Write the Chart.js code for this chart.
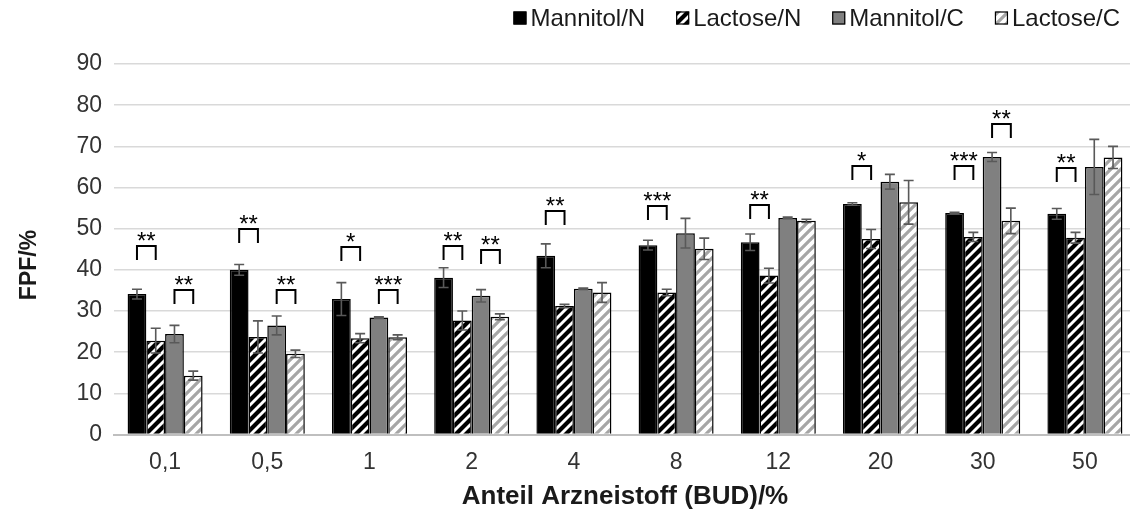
<!DOCTYPE html>
<html><head><meta charset="utf-8">
<script src="https://cdn.jsdelivr.net/npm/chart.js@4.4.1/dist/chart.umd.min.js"></script>
<style>
html,body{margin:0;padding:0;background:#fff;overflow:hidden;width:1130px;height:512px}
#wrap{position:absolute;left:0;top:0;width:1137px;height:512px}
</style>
</head><body><div id="wrap"><canvas id="c" width="1137" height="512"></canvas></div>
<script>
const categories = ['0,1','0,5','1','2','4','8','12','20','30','50'];
const seriesNames = ['Mannitol/N','Lactose/N','Mannitol/C','Lactose/C'];
const mannitolN = [34.1, 40.0, 32.9, 38.1, 43.4, 46.0, 46.7, 56.0, 53.8, 53.6];
const lactoseN  = [22.8, 23.7, 23.4, 27.7, 31.2, 34.5, 38.6, 47.5, 48.0, 47.8];
const mannitolC = [24.4, 26.5, 28.4, 33.7, 35.4, 48.9, 52.6, 61.4, 67.4, 65.0];
const lactoseC  = [14.3, 19.6, 23.6, 28.6, 34.5, 45.1, 51.9, 56.4, 51.9, 67.3];
const errMannitolN = [1.2, 1.3, 4.0, 2.4, 2.9, 1.2, 2.0, 0.3, 0.2, 1.3];
const errLactoseN  = [3.0, 3.9, 1.1, 2.3, 0.4, 0.8, 1.8, 2.3, 1.1, 1.3];
const errMannitolC = [2.1, 2.3, 0.2, 1.5, 0.2, 3.6, 0.2, 1.8, 1.1, 6.7];
const errLactoseC  = [1.1, 0.9, 0.6, 0.7, 2.4, 2.6, 0.4, 5.3, 3.1, 2.7];
const yTicks = [0,10,20,30,40,50,60,70,80,90];
const xTitle = 'Anteil Arzneistoff (BUD)/%';
const yTitle = 'FPF/%';
// significance brackets: category index, first series, second series, level (FPF %), label
const bracketCat   = [0, 0, 1, 1, 2, 2, 3, 3, 4, 5, 6, 7, 8, 8, 9];
const bracketFrom  = [0, 2, 0, 2, 0, 2, 0, 2, 0, 0, 0, 0, 0, 2, 0];
const bracketTo    = [1, 3, 1, 3, 1, 3, 1, 3, 1, 1, 1, 1, 1, 3, 1];
const bracketLevel = [45.9, 35.0, 49.9, 35.0, 45.5, 35.0, 45.7, 44.9, 54.2, 55.6, 55.7, 65.3, 65.3, 75.5, 64.7];
const bracketLabel = ['**','**','**','**','*','***','**','**','**','***','**','*','***','**','**'];

const FONT = '"Liberation Sans", Arial, sans-serif';
const canvas = document.getElementById('c');
const ctx0 = canvas.getContext('2d');
function stripes(fg, bg, size, lw) {
  const c = document.createElement('canvas');
  c.width = size; c.height = size;
  const g = c.getContext('2d');
  g.fillStyle = bg; g.fillRect(0, 0, size, size);
  g.strokeStyle = fg; g.lineWidth = lw;
  g.beginPath();
  g.moveTo(-size, size * 2); g.lineTo(size * 2, -size);
  g.moveTo(-size, size); g.lineTo(size, -size);
  g.moveTo(0, size * 2); g.lineTo(size * 2, 0);
  g.stroke();
  return ctx0.createPattern(c, 'repeat');
}
const patLN = stripes('#000000', '#ffffff', 10, 4.2);
const patLC = stripes('#a6a6a6', '#ffffff', 10, 3.2);

const fills = ['#000000', patLN, '#808080', patLC];
const values = [mannitolN, lactoseN, mannitolC, lactoseC];
const errors = [errMannitolN, errLactoseN, errMannitolC, errLactoseC];

const errorBars = {
  id: 'errorBars',
  afterDatasetsDraw(chart) {
    const ctx = chart.ctx, y = chart.scales.y;
    ctx.save();
    ctx.strokeStyle = '#595959'; ctx.lineWidth = 1.6;
    values.forEach((vals, di) => {
      const meta = chart.getDatasetMeta(di);
      meta.data.forEach((el, j) => {
        const v = vals[j], e = errors[di][j];
        const yt = y.getPixelForValue(v + e), yb = y.getPixelForValue(v - e);
        ctx.beginPath();
        ctx.moveTo(el.x, yt); ctx.lineTo(el.x, yb);
        ctx.moveTo(el.x - 5, yt); ctx.lineTo(el.x + 5, yt);
        ctx.moveTo(el.x - 5, yb); ctx.lineTo(el.x + 5, yb);
        ctx.stroke();
      });
    });
    ctx.restore();
  }
};

const brackets = {
  id: 'brackets',
  afterDatasetsDraw(chart) {
    const ctx = chart.ctx, y = chart.scales.y;
    ctx.save();
    ctx.strokeStyle = '#000'; ctx.lineWidth = 2;
    ctx.fillStyle = '#000';
    ctx.font = '24px ' + FONT;
    ctx.textAlign = 'center'; ctx.textBaseline = 'alphabetic';
    bracketCat.forEach((c, k) => {
      const xa = chart.getDatasetMeta(bracketFrom[k]).data[c].x;
      const xb = chart.getDatasetMeta(bracketTo[k]).data[c].x;
      const yt = Math.round(y.getPixelForValue(bracketLevel[k]));
      ctx.beginPath();
      ctx.moveTo(xa, yt + 14); ctx.lineTo(xa, yt); ctx.lineTo(xb, yt); ctx.lineTo(xb, yt + 14);
      ctx.stroke();
      ctx.fillText(bracketLabel[k], (xa + xb) / 2, yt + 3);
    });
    ctx.restore();
  }
};

const titlesAndLegend = {
  id: 'titlesAndLegend',
  afterDraw(chart) {
    const ctx = chart.ctx;
    ctx.save();
    // y axis title
    ctx.font = 'bold 23px ' + FONT;
    ctx.fillStyle = '#1a1a1a';
    ctx.textAlign = 'center'; ctx.textBaseline = 'middle';
    ctx.translate(30, 265);
    ctx.rotate(-Math.PI / 2);
    ctx.fillText(yTitle, 0, 0);
    ctx.restore();

    ctx.save();
    ctx.font = '24px ' + FONT;
    ctx.textBaseline = 'middle';
    ctx.textAlign = 'left';
    const gap = 31, box = 13, boxGap = 4;
    const widths = seriesNames.map(n => ctx.measureText(n).width);
    let total = 0;
    widths.forEach((w, i) => { total += box + boxGap + w + (i ? gap : 0); });
    let x = 1120 - total;
    const yc = 18;
    seriesNames.forEach((n, i) => {
      ctx.fillStyle = fills[i];
      ctx.fillRect(x, yc - box / 2, box, box);
      ctx.strokeStyle = '#000'; ctx.lineWidth = 1.2;
      ctx.strokeRect(x + 0.5, yc - box / 2 + 0.5, box - 1, box - 1);
      ctx.fillStyle = '#1a1a1a';
      ctx.fillText(n, x + box + boxGap, yc + 1);
      x += box + boxGap + widths[i] + gap;
    });
    ctx.restore();
  }
};

new Chart(canvas, {
  type: 'bar',
  data: {
    labels: categories,
    datasets: seriesNames.map((n, i) => ({
      label: n,
      data: values[i],
      backgroundColor: fills[i],
      borderColor: '#000000',
      borderWidth: 1.5,
      categoryPercentage: 0.734,
      barPercentage: 1.0
    }))
  },
  options: {
    responsive: false,
    animation: false,
    devicePixelRatio: 1,
    layout: { padding: { top: 64, right: 1, left: 0, bottom: 0 } },
    plugins: { legend: { display: false }, tooltip: { enabled: false } },
    scales: {
      x: {
        grid: { display: false, drawTicks: false },
        border: { display: true, color: '#bfbfbf', width: 2 },
        ticks: { color: '#333333', font: { size: 23, family: FONT }, padding: 14 },
        title: { display: true, text: xTitle, color: '#1a1a1a',
                 font: { size: 26, weight: 'bold', family: FONT }, padding: { top: 0, bottom: 0 } },
        afterFit(s) { s.height = 77.5; }
      },
      y: {
        min: 0, max: 90,
        afterBuildTicks(s) { s.ticks = yTicks.map(v => ({ value: v })); },
        grid: { color: '#d9d9d9', lineWidth: 1.5, drawTicks: false },
        border: { display: false },
        ticks: { color: '#333333', font: { size: 23, family: FONT }, padding: 12 },
        afterFit(s) { s.width = 114; }
      }
    }
  },
  plugins: [errorBars, brackets, titlesAndLegend]
});
</script>
</body></html>
